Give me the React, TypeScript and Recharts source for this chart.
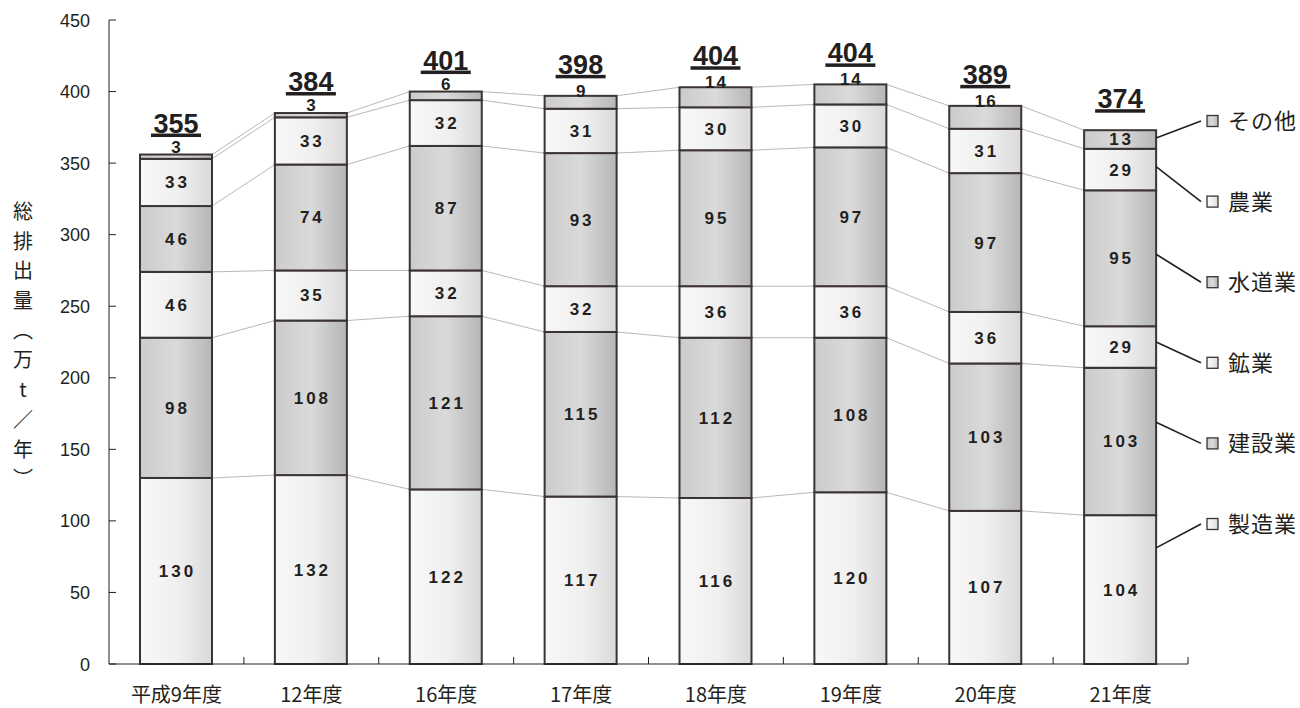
import { BarChart, Bar, XAxis, YAxis } from "recharts";

const CATEGORIES = ["平成9年度", "12年度", "16年度", "17年度", "18年度", "19年度", "20年度", "21年度"];
const SEIZO = [130, 132, 122, 117, 116, 120, 107, 104];
const KENSETSU = [98, 108, 121, 115, 112, 108, 103, 103];
const KOGYO = [46, 35, 32, 32, 36, 36, 36, 29];
const SUIDO = [46, 74, 87, 93, 95, 97, 97, 95];
const NOGYO = [33, 33, 32, 31, 30, 30, 31, 29];
const SONOTA = [3, 3, 6, 9, 14, 14, 16, 13];
const TOTALS = [355, 384, 401, 398, 404, 404, 389, 374];
const Y_TICKS = [0, 50, 100, 150, 200, 250, 300, 350, 400, 450];
const Y_TITLE = ["総", "排", "出", "量", "︵", "万", "t", "／", "年", "︶"];

// bottom to top
const SERIES = [
  { key: "seizo", label: "製造業", values: SEIZO, tone: "white" },
  { key: "kensetsu", label: "建設業", values: KENSETSU, tone: "gray" },
  { key: "kogyo", label: "鉱業", values: KOGYO, tone: "white" },
  { key: "suido", label: "水道業", values: SUIDO, tone: "gray" },
  { key: "nogyo", label: "農業", values: NOGYO, tone: "white" },
  { key: "sonota", label: "その他", values: SONOTA, tone: "gray" },
];

const W = 1300;
const H = 708;
const M = { top: 20, right: 112, bottom: 0, left: 0 };
const Y_AXIS_W = 109;
const X_AXIS_H = 44;
const Y_MAX = 450;
const PLOT_W = W - M.left - M.right - Y_AXIS_W;
const PLOT_H = H - M.top - M.bottom - X_AXIS_H;
const STEP = PLOT_W / CATEGORIES.length;

const INK = "#231f20";
const EDGE = "#3b3334";
const NUM_FONT = "'Liberation Sans', Arial, sans-serif";
const JP_FONT = "'Noto Sans CJK JP', 'Noto Sans', sans-serif";

// legend layout (right side)
const LEG_X = 1207;
const LEG_TOP = 121;
const LEG_GAP = 80.6;
const LEADER_AT = [0.22, 0.37, 0.38, 0.47, 0.43, 0.42];

const chartData = CATEGORIES.map((name, i) => {
  const row: any = { name };
  SERIES.forEach((s) => (row[s.key] = s.values[i]));
  return row;
});

const cumBelow = (si: number, i: number) =>
  SERIES.slice(0, si).reduce((sum, s) => sum + s.values[i], 0);

const fillFor = (tone: string) => (tone === "gray" ? "url(#gGray)" : "url(#gWhite)");

const makeShape = (si: number) => (props: any) => {
  const { x, y, width, height, index } = props;
  const s = SERIES[si];
  const val = s.values[index];
  const ppu = PLOT_H / Y_MAX;
  const low = cumBelow(si, index);
  const zero = y + height + low * ppu;
  const last = index === CATEGORIES.length - 1;
  const cx = x + width / 2;

  let connector = null;
  if (!last) {
    const nextTop = cumBelow(si + 1, index + 1);
    const ny = zero - nextTop * ppu;
    connector = (
      <line x1={x + width} y1={y} x2={x + STEP} y2={ny} stroke="#9a9a9a" strokeWidth={0.7} />
    );
  }

  let label = null;
  if (si < SERIES.length - 1 || last) {
    label = (
      <text
        x={cx}
        y={y + height / 2}
        dx={1.5}
        dy={6}
        textAnchor="middle"
        fontFamily={NUM_FONT}
        fontWeight="bold"
        fontSize={17}
        letterSpacing={3}
        fill={INK}
      >
        {val}
      </text>
    );
  } else {
    label = (
      <text
        x={cx}
        y={y + (val >= 9 ? 1 : -2)}
        dx={1}
        textAnchor="middle"
        fontFamily={NUM_FONT}
        fontWeight="bold"
        fontSize={17}
        letterSpacing={2}
        fill={INK}
      >
        {val}
      </text>
    );
  }

  let total = null;
  if (si === SERIES.length - 1) {
    const base = y - 22;
    total = (
      <g>
        <text
          x={cx}
          y={base}
          textAnchor="middle"
          fontFamily={NUM_FONT}
          fontWeight="bold"
          fontSize={27}
          fill={INK}
        >
          {TOTALS[index]}
        </text>
        <rect x={cx - 25} y={base + 1} width={50} height={3.5} fill={INK} />
      </g>
    );
  }

  let legend = null;
  if (last) {
    const ly = LEG_TOP + (SERIES.length - 1 - si) * LEG_GAP;
    const sy = y + height * LEADER_AT[si];
    legend = (
      <g>
        <line x1={x + width} y1={sy} x2={LEG_X - 6} y2={ly} stroke={INK} strokeWidth={1.6} />
        <rect
          x={LEG_X}
          y={ly - 5.5}
          width={11}
          height={11}
          fill={fillFor(s.tone)}
          stroke={EDGE}
          strokeWidth={1.3}
        />
        <text
          x={LEG_X + 21}
          y={ly + 8}
          fontFamily={JP_FONT}
          fontSize={22}
          letterSpacing={1}
          fill={INK}
        >
          {s.label}
        </text>
      </g>
    );
  }

  return (
    <g>
      {connector}
      <rect
        x={x}
        y={y}
        width={width}
        height={height}
        fill={fillFor(s.tone)}
        stroke={EDGE}
        strokeWidth={2}
      />
      {label}
      {total}
      {legend}
    </g>
  );
};

const XTick = (props: any) => {
  const { x, y, payload } = props;
  return (
    <g>
      <text x={x} y={y + 38} textAnchor="middle" fontFamily={JP_FONT} fontSize={20} fill={INK}>
        {payload.value}
      </text>
      <line x1={x + STEP / 2} y1={y} x2={x + STEP / 2} y2={y - 7} stroke={INK} strokeWidth={1} />
    </g>
  );
};

const YTick = (props: any) => {
  const { x, y, payload } = props;
  return (
    <g>
      <text x={x - 19} y={y + 6.5} textAnchor="end" fontFamily={NUM_FONT} fontSize={18} fill={INK}>
        {payload.value}
      </text>
      <line x1={x} y1={y} x2={x + 7} y2={y} stroke={INK} strokeWidth={1} />
    </g>
  );
};

export default function App() {
  return (
    <div
      style={{
        position: "absolute",
        left: 0,
        top: 0,
        width: W,
        height: H,
        background: "#fff",
      }}
    >
      <BarChart width={W} height={H} data={chartData} margin={M} barSize={72}>
        <defs>
          <linearGradient id="gWhite" x1="0" y1="0" x2="1" y2="0">
            <stop offset="0" stopColor="#f8f8f8" />
            <stop offset="0.55" stopColor="#efefef" />
            <stop offset="1" stopColor="#d9d9d9" />
          </linearGradient>
          <linearGradient id="gGray" x1="0" y1="0" x2="1" y2="0">
            <stop offset="0" stopColor="#cbcbcb" />
            <stop offset="0.5" stopColor="#dadada" />
            <stop offset="1" stopColor="#b6b6b6" />
          </linearGradient>
        </defs>
        <XAxis
          dataKey="name"
          height={X_AXIS_H}
          tickSize={0}
          tickMargin={0}
          tickLine={false}
          axisLine={{ stroke: INK, strokeWidth: 1 }}
          tick={<XTick />}
          interval={0}
        />
        <YAxis
          width={Y_AXIS_W}
          domain={[0, Y_MAX]}
          ticks={Y_TICKS}
          interval={0}
          tickSize={0}
          tickMargin={0}
          tickLine={false}
          axisLine={{ stroke: INK, strokeWidth: 1 }}
          tick={<YTick />}
        />
        {SERIES.map((s, si) => (
          <Bar
            key={s.key}
            dataKey={s.key}
            stackId="a"
            isAnimationActive={false}
            shape={makeShape(si)}
          />
        ))}
      </BarChart>
      <div
        style={{
          position: "absolute",
          left: 12,
          top: 196,
          width: 22,
          fontFamily: JP_FONT,
          fontSize: 20,
          color: INK,
        }}
      >
        {Y_TITLE.map((ch, i) => (
          <div key={i} style={{ height: 29.7, lineHeight: "29.7px", textAlign: "center" }}>
            {ch}
          </div>
        ))}
      </div>
    </div>
  );
}
